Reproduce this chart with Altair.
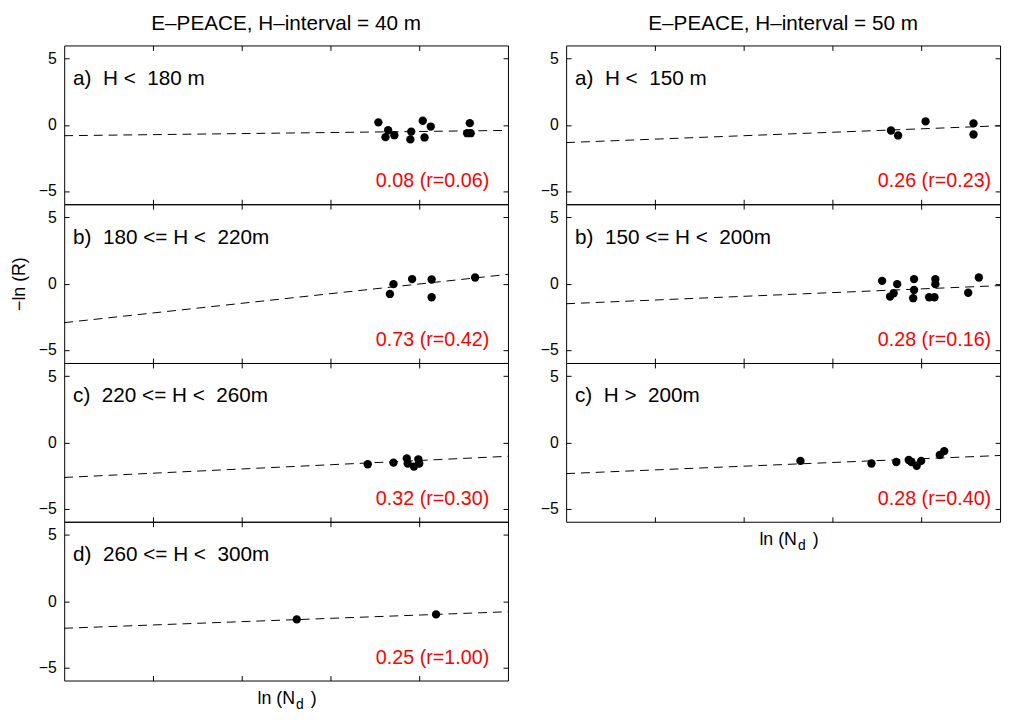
import altair as alt
import pandas as pd

FONT = "Liberation Sans"

# ---------------- data ----------------
# Left column: E-PEACE, H-interval = 40 m
a40_x = [3.54, 3.65, 3.62, 3.72, 3.91, 3.90, 4.04, 4.13, 4.06, 4.57, 4.54, 4.58]
a40_y = [0.19, -0.41, -0.93, -0.78, -0.51, -1.10, 0.31, -0.13, -0.95, 0.13, -0.63, -0.63]
b40_x = [3.71, 3.67, 3.92, 4.14, 4.14, 4.63]
b40_y = [-0.04, -0.78, 0.34, 0.31, -1.03, 0.46]
c40_x = [3.42, 3.71, 3.86, 3.87, 3.94, 3.99, 4.00]
c40_y = [-1.65, -1.53, -1.21, -1.60, -1.83, -1.28, -1.60]
d40_x = [2.62, 4.19]
d40_y = [-1.38, -1.00]

# Right column: E-PEACE, H-interval = 50 m
a50_x = [3.66, 3.74, 4.05, 4.59, 4.59]
a50_y = [-0.43, -0.80, 0.26, 0.11, -0.73]
b50_x = [3.56, 3.65, 3.69, 3.73, 3.92, 3.92, 3.91, 4.16, 4.16, 4.09, 4.15, 4.53, 4.65]
b50_y = [0.21, -0.98, -0.73, -0.04, 0.34, -0.48, -1.10, 0.34, -0.04, -1.03, -1.03, -0.69, 0.46]
c50_x = [2.64, 3.44, 3.72, 3.86, 3.89, 3.95, 4.00, 4.21, 4.26]
c50_y = [-1.40, -1.60, -1.48, -1.33, -1.48, -1.77, -1.40, -0.95, -0.66]

NB = "\u00a0"
labels_40 = [f"a){NB}{NB}H <{NB}{NB}180 m", f"b){NB}{NB}180 <= H <{NB}{NB}220m",
             f"c){NB}{NB}220 <= H <{NB}{NB}260m", f"d){NB}{NB}260 <= H <{NB}{NB}300m"]
labels_50 = [f"a){NB}{NB}H <{NB}{NB}150 m", f"b){NB}{NB}150 <= H <{NB}{NB}200m",
             f"c){NB}{NB}H >{NB}{NB}200m"]
slopes_40 = [0.08, 0.73, 0.32, 0.25]
r_40 = [0.06, 0.42, 0.30, 1.00]
intercepts_40 = [-0.82, -2.95, -2.65, -2.05]
slopes_50 = [0.26, 0.28, 0.28]
r_50 = [0.23, 0.16, 0.40]
intercepts_50 = [-1.34, -1.52, -2.36]

titles = ["E\u2013PEACE, H\u2013interval = 40 m", "E\u2013PEACE, H\u2013interval = 50 m"]
y_title = "\u2212ln (R)"
x_ticks = [1, 2, 3, 4]
y_ticks = [-5, 0, 5]

H = 161


def panel(xs, ys, b, s, label, slope, r, w, xmax, stat_right,
          ytitle=None, title=None, xtitle=False):
    pts = pd.DataFrame({"x": xs, "y": ys})
    fit = pd.DataFrame({"x": [0, xmax], "y": [b, b + s * xmax]})
    xsc = alt.Scale(domain=[0, xmax], nice=False, zero=False)
    ysc = alt.Scale(domain=[-6, 6], nice=False)
    tick_only = dict(domain=False, grid=False, labels=False, ticks=True,
                     tickSize=5, offset=-5, tickColor="black", title=None)
    line = alt.Chart(fit).mark_line(color="black", strokeDash=[9, 6], strokeWidth=1).encode(
        x=alt.X("x:Q", scale=xsc, axis=alt.Axis(orient="top", values=x_ticks, **tick_only)),
        y=alt.Y("y:Q", scale=ysc, axis=alt.Axis(orient="right", values=y_ticks, **tick_only)),
    )
    yaxis_kw = dict(orient="left", values=y_ticks, domain=False, grid=False, ticks=True,
                    tickSize=5, offset=-5, tickColor="black", labelPadding=8,
                    labelFontSize=16, labelFont=FONT, labelColor="black")
    if ytitle:
        yaxis_kw.update(title=ytitle, titleFont=FONT, titleFontSize=18,
                        titleFontWeight="normal", titleColor="black", titlePadding=10)
    else:
        yaxis_kw.update(title=None)
    dots = alt.Chart(pts).mark_circle(color="black", size=72, opacity=1).encode(
        x=alt.X("x:Q", scale=xsc, axis=alt.Axis(orient="bottom", values=x_ticks, **tick_only)),
        y=alt.Y("y:Q", scale=ysc, axis=alt.Axis(**yaxis_kw)),
    )
    stat_df = pd.DataFrame({"t": [f"{slope:.2f} (r={r:.2f})"]})
    stat = alt.Chart(stat_df).mark_text(
        color="#ff0000", font=FONT, fontSize=20, align="right", baseline="alphabetic"
    ).encode(text="t:N", x=alt.value(w - stat_right), y=alt.value(H - 17))
    lab_df = pd.DataFrame({"t": [label]})
    lab = alt.Chart(lab_df).mark_text(
        color="black", font=FONT, fontSize=21, align="left", baseline="alphabetic"
    ).encode(text="t:N", x=alt.value(9), y=alt.value(40))
    layers = [line, dots, stat, lab]
    if xtitle:
        base = dict(color="black", font=FONT, align="left", baseline="alphabetic")
        t1 = alt.Chart(pd.DataFrame({"t": ["ln (N"]})).mark_text(fontSize=18, **base).encode(
            text="t:N", x=alt.value(196), y=alt.value(H + 24))
        t2 = alt.Chart(pd.DataFrame({"t": ["d"]})).mark_text(fontSize=14, **base).encode(
            text="t:N", x=alt.value(235), y=alt.value(H + 29))
        t3 = alt.Chart(pd.DataFrame({"t": [")"]})).mark_text(fontSize=18, **base).encode(
            text="t:N", x=alt.value(250), y=alt.value(H + 24))
        layers += [t1, t2, t3]
    props = dict(width=w, height=H)
    if title:
        props["title"] = alt.Title(title, font=FONT, fontSize=21, fontWeight="normal",
                                   anchor="middle", frame="group", offset=11, color="black")
    return alt.layer(*layers).resolve_axis(x="independent", y="independent").properties(**props)


WL, XL = 450, 5.0
WR, XR = 440, 440 / 90.0

left_data = [(a40_x, a40_y), (b40_x, b40_y), (c40_x, c40_y), (d40_x, d40_y)]
right_data = [(a50_x, a50_y), (b50_x, b50_y), (c50_x, c50_y)]

left_panels = []
for i, (xs, ys) in enumerate(left_data):
    left_panels.append(panel(xs, ys, intercepts_40[i], slopes_40[i], labels_40[i],
                             slopes_40[i], r_40[i], WL, XL, 19,
                             ytitle=y_title if i == 1 else None,
                             title=titles[0] if i == 0 else None,
                             xtitle=(i == len(left_data) - 1)))
right_panels = []
for i, (xs, ys) in enumerate(right_data):
    right_panels.append(panel(xs, ys, intercepts_50[i], slopes_50[i], labels_50[i],
                              slopes_50[i], r_50[i], WR, XR, 9,
                              title=titles[1] if i == 0 else None,
                              xtitle=(i == len(right_data) - 1)))

left_col = alt.vconcat(*left_panels, spacing=0, bounds="flush")
right_col = alt.vconcat(*right_panels, spacing=0, bounds="flush")

chart = alt.hconcat(left_col, right_col, spacing=29).properties(
    padding={"left": 2, "top": 0, "right": 0, "bottom": 0}
).configure(
    background="white",
    view=alt.ViewConfig(stroke="black", strokeWidth=1),
)

chart.save("out.html", embed_options={"renderer": "svg", "actions": False})
